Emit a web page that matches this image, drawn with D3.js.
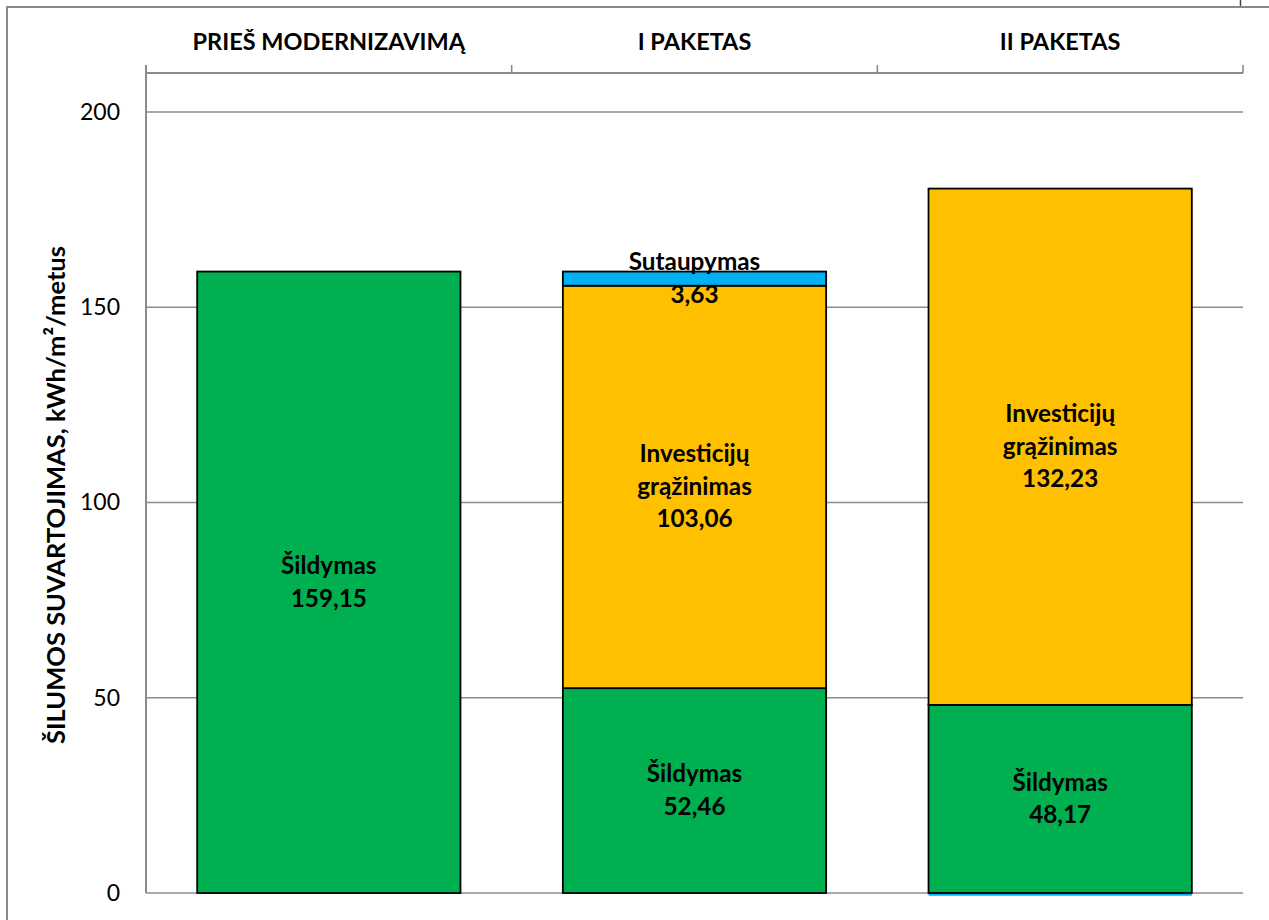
<!DOCTYPE html>
<html>
<head>
<meta charset="utf-8">
<script src="https://cdn.jsdelivr.net/npm/d3@7"></script>
<style>
  body { margin: 0; background: #fff; }
  svg { display: block; font-family: Lato, "Noto Sans", sans-serif; }
  .catLabel { font-weight: bold; font-size: 23.5px; text-anchor: middle; }
  .tickLabel { font-size: 23px; text-anchor: end; }
  .axisTitle { font-weight: bold; font-size: 25.5px; text-anchor: middle; }
  .segLabel { font-weight: bold; font-size: 24.3px; text-anchor: middle; }
</style>
</head>
<body>
<div id="chart"></div>
<script>
// data vars
const categories = ["PRIEŠ MODERNIZAVIMĄ", "I PAKETAS", "II PAKETAS"];
const sildymas = [159.15, 52.46, 48.17];
const investicijos = [0, 103.06, 132.23];
const sutaupymas = [0, 3.63, -21.25];
const seriesNames = ["Šildymas", "Investicijų grąžinimas", "Sutaupymas"];
const seriesLabelLines = [["Šildymas"], ["Investicijų", "grąžinimas"], ["Sutaupymas"]];
const seriesColors = ["#00B050", "#FFC000", "#00B0F0"];
const yTicks = [0, 50, 100, 150, 200];
const yMax = 210;
const axisTitle = "ŠILUMOS SUVARTOJIMAS, kWh/m²/metus";

// constants
const width = 1269;
const height = 920;
const margin = {
  top: 73,
  right: 26,
  bottom: 27,
  left: 146
};

const rows = categories.map((c, i) => ({
  cat: c,
  "Šildymas": sildymas[i],
  "Investicijų grąžinimas": investicijos[i],
  "Sutaupymas": sutaupymas[i]
}));

const stacked = d3.stack()
  .keys(seriesNames)
  .offset(d3.stackOffsetDiverging)(rows);

const x = d3.scaleBand()
  .domain(categories)
  .range([margin.left, width - margin.right])
  .paddingInner(0.28)
  .paddingOuter(0.14);

const y = d3.scaleLinear()
  .domain([0, yMax])
  .range([height - margin.bottom, margin.top])
  .clamp(true);

const svg = d3.select("#chart")
  .append("svg")
  .attr("width", width)
  .attr("height", height)
  .attr("viewBox", [0, 0, width, height]);

// outer frame (cropped chart border)
svg.append("path")
  .attr("d", `M7,${height} V7 H${width}`)
  .attr("fill", "none")
  .attr("stroke", "#898989")
  .attr("stroke-width", 2);

svg.append("line")
  .attr("x1", 1240.5).attr("x2", 1240.5)
  .attr("y1", 0).attr("y2", 6)
  .attr("stroke", "#444")
  .attr("stroke-width", 1.5);

// gridlines
svg.append("g")
  .selectAll("line")
  .data(yTicks)
  .join("line")
  .attr("x1", margin.left)
  .attr("x2", width - margin.right)
  .attr("y1", d => y(d))
  .attr("y2", d => y(d))
  .attr("stroke", "#8c8c8c")
  .attr("stroke-width", 1.6);

// left value axis
const yAxis = g => g
  .attr("transform", `translate(${margin.left}, 0)`)
  .call(d3.axisLeft(y).tickValues(yTicks).tickSize(0).tickPadding(26))
  .attr("font-family", null)
  .attr("font-size", null)
  .call(g => g.select(".domain")
    .attr("d", `M0,${margin.top - 8} V${height - margin.bottom}`)
    .attr("stroke", "#8c8c8c")
    .attr("stroke-width", 2))
  .call(g => g.selectAll(".tick text")
    .attr("class", "tickLabel")
    .attr("fill", "#000"));

svg.append("g").call(yAxis);

// top category axis
const boundaries = d3.range(categories.length + 1)
  .map(i => margin.left + i * x.step());

const topAxis = svg.append("g");

topAxis.append("line")
  .attr("x1", margin.left)
  .attr("x2", width - margin.right)
  .attr("y1", margin.top)
  .attr("y2", margin.top)
  .attr("stroke", "#8c8c8c")
  .attr("stroke-width", 2);

topAxis.selectAll("line.tk")
  .data(boundaries)
  .join("line")
  .attr("class", "tk")
  .attr("x1", d => d)
  .attr("x2", d => d)
  .attr("y1", margin.top - 8)
  .attr("y2", margin.top)
  .attr("stroke", "#8c8c8c")
  .attr("stroke-width", 1.6);

topAxis.selectAll("text")
  .data(categories)
  .join("text")
  .attr("class", "catLabel")
  .attr("x", d => x(d) + x.bandwidth() / 2)
  .attr("y", 50)
  .text(d => d);

// bars
const segments = [];
stacked.forEach((series, si) => {
  series.forEach(s => {
    if (s[1] - s[0] !== 0) segments.push({ s, si, cat: s.data.cat });
  });
});

const visible = segments.filter(d => y(d.s[0]) !== y(d.s[1]));
const clipped = segments.filter(d => y(d.s[0]) === y(d.s[1]));

// segments pushed past the axis minimum show only as a thin line of their colour
svg.append("g")
  .selectAll("line")
  .data(clipped)
  .join("line")
  .attr("x1", d => x(d.cat))
  .attr("x2", d => x(d.cat) + x.bandwidth())
  .attr("y1", d => y(d.s[0]) + 1.5)
  .attr("y2", d => y(d.s[0]) + 1.5)
  .attr("stroke", d => seriesColors[d.si])
  .attr("stroke-width", 2.5);

svg.append("g")
  .selectAll("rect")
  .data(visible)
  .join("rect")
  .attr("x", d => x(d.cat))
  .attr("width", x.bandwidth())
  .attr("y", d => Math.min(y(d.s[0]), y(d.s[1])))
  .attr("height", d => Math.abs(y(d.s[0]) - y(d.s[1])))
  .attr("fill", d => seriesColors[d.si])
  .attr("stroke", "#000")
  .attr("stroke-width", 1.8);

// segment labels
const labelData = [];
stacked.forEach((series, si) => {
  series.forEach(s => {
    const v = s.data[series.key];
    if (v > 0) {
      labelData.push({
        cat: s.data.cat,
        mid: (s[0] + s[1]) / 2,
        lines: seriesLabelLines[si].concat([d3.format(".2f")(v).replace(".", ",")])
      });
    }
  });
});

const lineHeight = 32.5;

const labels = svg.append("g")
  .selectAll("text")
  .data(labelData)
  .join("text")
  .attr("class", "segLabel")
  .attr("x", d => x(d.cat) + x.bandwidth() / 2)
  .attr("y", d => y(d.mid) - (d.lines.length - 1) * lineHeight / 2 + 8);

labels.selectAll("tspan")
  .data(d => d.lines.map((t, i) => ({ t, i, x: x(d.cat) + x.bandwidth() / 2 })))
  .join("tspan")
  .attr("x", d => d.x)
  .attr("dy", d => d.i === 0 ? 0 : lineHeight)
  .text(d => d.t);

// y axis title
svg.append("text")
  .attr("class", "axisTitle")
  .attr("transform", `translate(65, 495) rotate(-90)`)
  .text(axisTitle);
</script>
</body>
</html>
